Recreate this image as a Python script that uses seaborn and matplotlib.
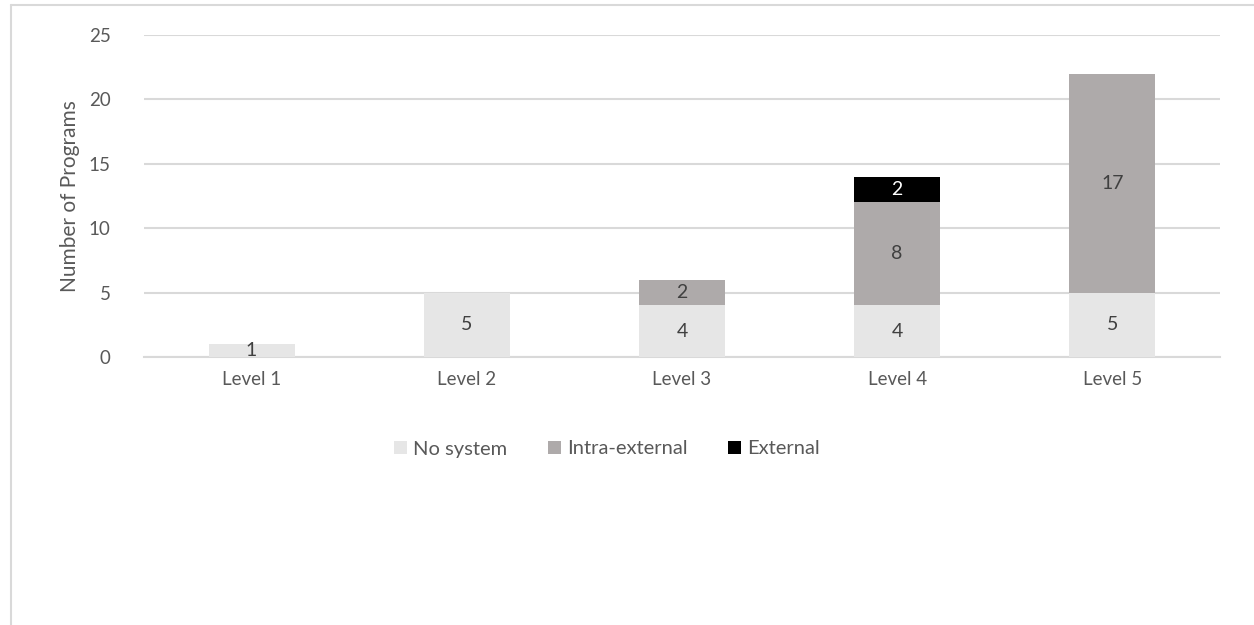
import matplotlib
matplotlib.use("Agg")
import matplotlib.pyplot as plt
import pandas as pd
import seaborn as sns
from matplotlib.lines import Line2D
from matplotlib.patches import Patch

levels = ["Level 1", "Level 2", "Level 3", "Level 4", "Level 5"]
no_system = [1, 5, 4, 4, 5]
intra_external = [0, 0, 2, 8, 17]
external = [0, 0, 0, 2, 0]

series_names = ["No system", "Intra-external", "External"]
series_colors = ["#e6e6e6", "#aeaaaa", "#000000"]
label_colors = ["#404040", "#404040", "#ffffff"]

sns.set_theme(style="white")
plt.rcParams["font.family"] = ["Lato", "DejaVu Sans"]

df = pd.DataFrame({
    "level": levels,
    "No system": no_system,
    "Intra-external": intra_external,
    "External": external,
})

fig = plt.figure(figsize=(12.54, 6.25), dpi=100)
ax = fig.add_axes([0.1148, 0.4288, 0.858, 0.5152])

bottom = [0] * len(levels)
for name, color, tcolor in zip(series_names, series_colors, label_colors):
    sns.barplot(data=df, x="level", y=name, color=color, width=0.4,
                bottom=bottom, ax=ax, saturation=1, zorder=3, linewidth=0)
    for i, v in enumerate(df[name]):
        if v > 0:
            ax.text(i, bottom[i] + v / 2, str(v), ha="center", va="center",
                    fontsize=14, color=tcolor, zorder=4)
    bottom = [b + v for b, v in zip(bottom, df[name])]

ax.set_ylim(0, 25)
ax.set_yticks([0, 5, 10, 15, 20, 25])
ax.set_xlim(-0.5, 4.5)
ax.grid(axis="y", color="#d9d9d9", linewidth=1.5, zorder=0)
ax.set_axisbelow(True)
for side in ["top", "right", "left"]:
    ax.spines[side].set_visible(False)
ax.spines["bottom"].set_color("#d9d9d9")
ax.spines["bottom"].set_linewidth(1.5)
ax.tick_params(axis="both", length=0, labelsize=13.5, labelcolor="#595959", pad=10)
ax.tick_params(axis="y", pad=24)
ax.set_xlabel("")
ax.set_ylabel("Number of Programs", fontsize=15, color="#595959", labelpad=6)

handles = [Patch(facecolor=c, edgecolor="none") for c in series_colors]
fig.legend(handles, series_names, loc="center", bbox_to_anchor=(0.484, 0.2816),
           ncol=3, frameon=False, fontsize=14.5, handlelength=0.65, handleheight=0.65,
           handletextpad=0.3, columnspacing=2.0, labelcolor="#595959")

# outer chart border (partially visible)
fig.add_artist(Line2D([0.0085, 1.0], [0.992, 0.992], color="#d9d9d9", linewidth=1.5,
                      transform=fig.transFigure))
fig.add_artist(Line2D([0.0085, 0.0085], [0.0, 0.992], color="#d9d9d9", linewidth=1.5,
                      transform=fig.transFigure))

fig.savefig("out.png", dpi=100)
plt.close(fig)
